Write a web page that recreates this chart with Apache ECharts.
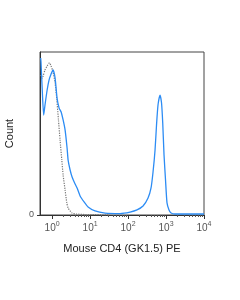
<!DOCTYPE html>
<html>
<head>
<meta charset="utf-8">
<script src="https://cdn.jsdelivr.net/npm/echarts@6/dist/echarts.min.js"></script>
<style>
html, body { margin: 0; padding: 0; background: #fff; }
#echarts_0 { width: 240px; height: 300px; }
</style>
</head>
<body>
<div id="echarts_0"></div>
<script>
// CD4 PE histogram (stained vs isotype)
var stainedX = [0.50, 0.51, 0.55, 0.60, 0.65, 0.74, 0.83, 0.94, 1.06, 1.2, 1.35, 1.53, 1.73, 1.95, 2.2, 2.48, 2.64, 2.98, 3.36, 4.03, 4.55, 5.46, 6.95, 8.86, 13.5, 24.8, 61.6, 113, 172, 248, 336, 403, 455, 514, 562, 615, 695, 762, 819, 886, 970, 1062, 1199, 1355, 1725, 10000];
var stainedY = [96.3, 93.9, 76.7, 61.3, 67.5, 76.7, 82.8, 86.5, 89, 84, 71.8, 65.6, 63.2, 58.3, 52.1, 41.1, 33.7, 27.6, 23.3, 19, 16.6, 11.7, 8, 4.9, 2.5, 1.2, 0.9, 1.8, 3.1, 5.5, 10.4, 16.6, 26.4, 39.9, 55.2, 67.5, 73.6, 68.7, 56.4, 36.8, 21.5, 7.4, 3.1, 1.2, 0.6, 0.6];
var isoX = [0.50, 0.55, 0.58, 0.65, 0.74, 0.85, 0.94, 1.06, 1.2, 1.33, 1.47, 1.62, 1.80, 1.95, 2.2, 2.44, 2.64, 2.98, 3.36, 4.28, 7.38, 33.6];
var isoY = [85.9, 84, 85.3, 89, 91.4, 93.3, 91.4, 87.7, 81, 70.6, 58.3, 46, 33.7, 24.5, 15.3, 7.4, 4.3, 2.5, 1.2, 0.6, 0.3, 0.1];
var majorTicks = [1, 10, 100, 1000, 10000];
var minorTicks = [];
for (var d = 1; d < 10000; d *= 10) {
    for (var k = 2; k <= 9; k++) minorTicks.push(k * d);
}

function pairs(xs, ys) {
    var out = [];
    for (var i = 0; i < xs.length; i++) out.push([xs[i], ys[i]]);
    return out;
}

var myChart = echarts.init(document.getElementById('echarts_0'));
var font = "'Liberation Sans', Arial, sans-serif";
var option = {
    animation: false,
    textStyle: { fontFamily: font },
    grid: {
        left: 40, right: 36, top: 52, bottom: 85,
        outerBoundsMode: 'none',
        containLabel: false,
        show: true, borderColor: '#444', borderWidth: 1
    },
    xAxis: [
        {
            type: 'log',
            min: 0.48,
            max: 10000,
            name: 'Mouse CD4 (GK1.5) PE',
            nameLocation: 'middle',
            nameGap: 28,
            nameTextStyle: { fontSize: 11, color: '#222', fontFamily: font },
            axisLine: { lineStyle: { color: '#333', width: 1 } },
            axisTick: { customValues: majorTicks, length: 4, lineStyle: { color: '#333' } },
            splitLine: { show: false },
            axisLabel: {
                customValues: majorTicks,
                margin: 6,
                formatter: function (v) {
                    return '{b|10}{s|' + Math.round(Math.log10(v)) + '}';
                },
                rich: {
                    b: { fontSize: 10, color: '#555', fontFamily: font, lineHeight: 14 },
                    s: { fontSize: 7, color: '#555', fontFamily: font, verticalAlign: 'top' }
                }
            }
        },
        {
            type: 'log',
            min: 0.48,
            max: 10000,
            position: 'bottom',
            axisLine: { show: false },
            axisTick: { customValues: minorTicks, length: 2, lineStyle: { color: '#555' } },
            axisLabel: { show: false },
            splitLine: { show: false }
        }
    ],
    yAxis: {
        type: 'value',
        min: 0,
        max: 100,
        name: 'Count',
        nameLocation: 'middle',
        nameGap: 25,
        nameTextStyle: { fontSize: 11, color: '#222', fontFamily: font },
        axisLine: { show: true, lineStyle: { color: '#333', width: 1 } },
        axisTick: { show: true, customValues: [0], length: 3, lineStyle: { color: '#333' } },
        axisLabel: { customValues: [0], fontSize: 9, color: '#555', margin: 6 },
        splitLine: { show: false }
    },
    series: [
        {
            name: 'isotype',
            type: 'line',
            showSymbol: false,
            smooth: 0.2,
            data: pairs(isoX, isoY),
            lineStyle: { color: '#777', width: 1.2, type: 'dotted' },
            z: 2
        },
        {
            name: 'CD4',
            type: 'line',
            showSymbol: false,
            smooth: 0.2,
            data: pairs(stainedX, stainedY),
            lineStyle: { color: '#2c8cf4', width: 1.3 },
            z: 3
        }
    ]
};
myChart.setOption(option);
</script>
</body>
</html>
